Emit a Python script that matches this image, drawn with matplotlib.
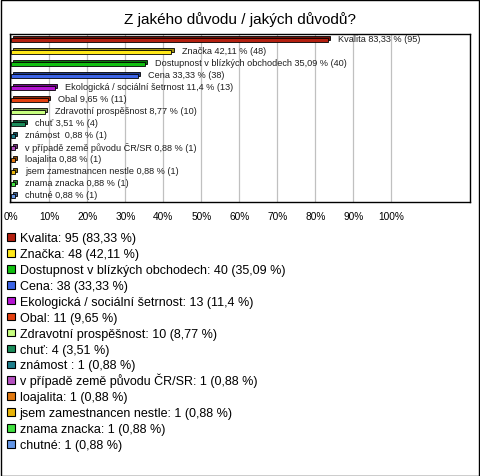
import matplotlib
matplotlib.use("Agg")
import matplotlib.pyplot as plt
from matplotlib.patches import Rectangle
from matplotlib.transforms import ScaledTranslation

plt.rcParams['font.family'] = ['Liberation Sans', 'DejaVu Sans']

title = "Z jakého důvodu / jakých důvodů?"
categories = ["Kvalita", "Značka", "Dostupnost v blízkých obchodech", "Cena",
              "Ekologická / sociální šetrnost", "Obal", "Zdravotní prospěšnost",
              "chuť", "známost ", "v případě země původu ČR/SR", "loajalita",
              "jsem zamestnancen nestle", "znama znacka", "chutné"]
counts = [95, 48, 40, 38, 13, 11, 10, 4, 1, 1, 1, 1, 1, 1]
percents = [83.33, 42.11, 35.09, 33.33, 11.4, 9.65, 8.77, 3.51, 0.88, 0.88, 0.88, 0.88, 0.88, 0.88]
pct_text = ["83,33", "42,11", "35,09", "33,33", "11,4", "9,65", "8,77", "3,51",
            "0,88", "0,88", "0,88", "0,88", "0,88", "0,88"]
colors = ["#B42010", "#FFE81A", "#10C010", "#3C64E6", "#B414D2", "#E44010",
          "#C8FF80", "#1A8C5A", "#1E7E8C", "#B450C0", "#E07810", "#E8B40A",
          "#40E040", "#6496E6"]
back_colors = ["#6E1208", "#A09010", "#087808", "#203C8C", "#700C84", "#8C280A",
               "#80A050", "#0E5636", "#104E58", "#703278", "#8C4A0A", "#907006",
               "#288C28", "#3C5C8C"]
xticks = [0, 10, 20, 30, 40, 50, 60, 70, 80, 90, 100]

W, H = 480, 477
fig = plt.figure(figsize=(W / 100, H / 100), dpi=100)
fig.patch.set_facecolor("white")
fig.patches.append(Rectangle((0.5 / W, 0.5 / H), 1 - 1.5 / W, 1 - 1.5 / H,
                             transform=fig.transFigure, fill=False,
                             edgecolor="black", linewidth=1.0))

ax = fig.add_axes([10 / W, 1 - 203 / H, 460 / W, 168 / H])
ax.set_xlim(-0.34, 120.7)
ax.set_ylim(len(categories) - 0.5, -0.5)

for x in xticks:
    ax.axvline(x, color="#C0C0C0", linewidth=0.9, zorder=0)

ypos = list(range(len(categories)))
h = 0.34
depth = ScaledTranslation(2.2 / 100, 2.2 / 100, fig.dpi_scale_trans)
ax.barh(ypos, percents, height=h, color=back_colors, edgecolor="black",
        linewidth=0.6, transform=ax.transData + depth, zorder=2)
ax.barh(ypos, percents, height=h, color=colors, edgecolor="black",
        linewidth=0.6, zorder=3)

for i, (cat, p, pt, c) in enumerate(zip(categories, percents, pct_text, counts)):
    ax.annotate(f"{cat} {pt} % ({c})", xy=(p, i), xytext=(7.5, 0.8),
                textcoords="offset points", va="center", ha="left",
                fontsize=6.6, color="#202020", zorder=4)

ax.set_xticks(xticks)
ax.set_xticklabels([f"{x}%" for x in xticks], fontsize=7.3)
ax.set_yticks([])
ax.tick_params(axis="x", length=0, pad=6.5)
for s in ax.spines.values():
    s.set_linewidth(1.0)
    s.set_color("black")

fig.text(0.5, 1 - 20 / H, title, ha="center", va="center", fontsize=11)

# legend, drawn as fixed rows
y0, dy = 238.0, 15.9
for i, (cat, c, pt, col) in enumerate(zip(categories, counts, pct_text, colors)):
    yc = y0 + i * dy
    fig.patches.append(Rectangle((7 / W, 1 - (yc + 3.8) / H), 7.5 / W, 7.5 / H,
                                 transform=fig.transFigure, facecolor=col,
                                 edgecolor="black", linewidth=0.8))
    fig.text(19.5 / W, 1 - (yc + 4.3) / H, f"{cat}: {c} ({pt} %)", ha="left",
             va="baseline", fontsize=9)

fig.savefig("out.png", dpi=100)
